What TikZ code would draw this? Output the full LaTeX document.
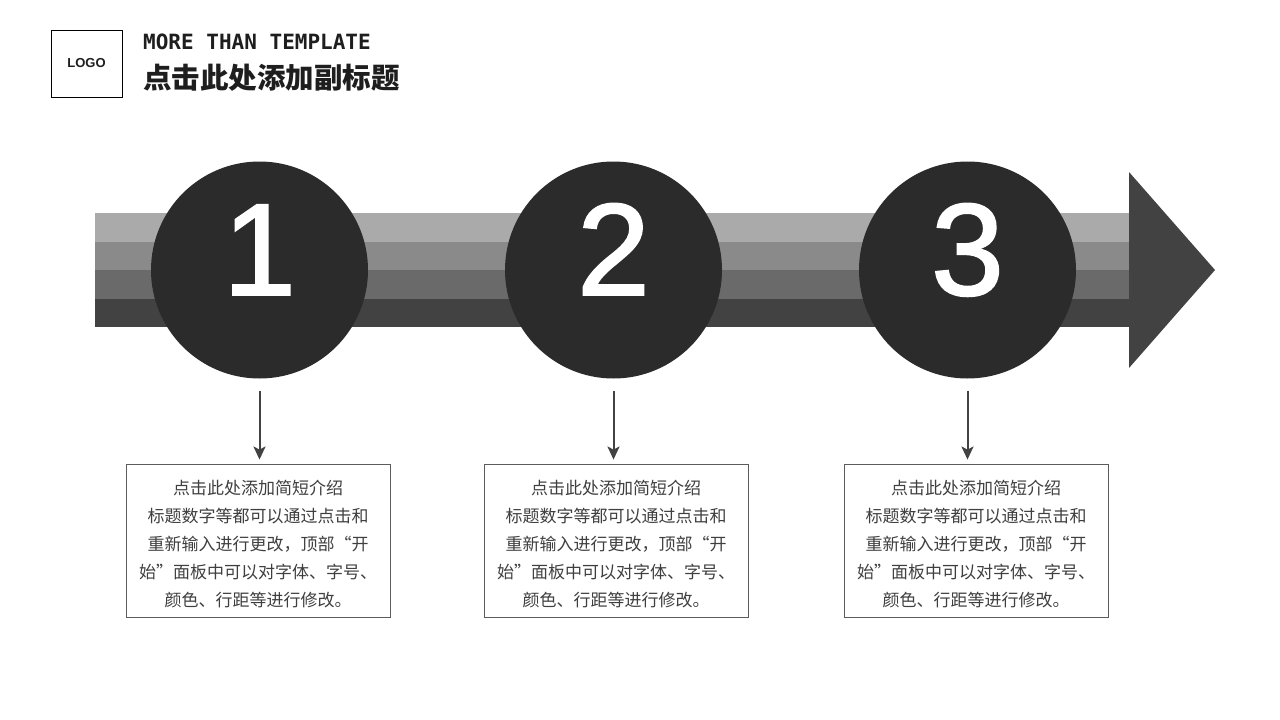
\documentclass[tikz,border=0pt]{standalone}
\usepackage{fontspec}
\setmainfont{Liberation Sans}
\newfontfamily\cjk{Noto Sans CJK SC}
\newfontfamily\monob{DejaVu Sans Mono}
\newfontfamily\numfont[FakeBold=1.5]{Liberation Sans}
\usetikzlibrary{arrows.meta}
\definecolor{sA}{HTML}{AAAAAA}
\definecolor{sB}{HTML}{8A8A8A}
\definecolor{sC}{HTML}{6A6A6A}
\definecolor{sD}{HTML}{424242}
\definecolor{circ}{HTML}{2B2B2B}
\definecolor{txt}{HTML}{3F3F3F}
\definecolor{ttl}{HTML}{1E1E1E}
\newcommand{\desctext}{\rule{0pt}{21pt}点击此处添加简短介绍\\标题数字等都可以通过点击和\\重新输入进行更改，顶部“开\\始”面板中可以对字体、字号、\\颜色、行距等进行修改。}
\tikzset{
  numcircle/.style={circle,fill=circ,minimum size=217pt,inner sep=0pt},
  numtext/.style={anchor=base,text=white,font=\numfont\fontsize{131}{131}\selectfont},
  descbox/.style={draw=txt!85,line width=0.9pt,minimum width=264pt,minimum height=153pt,
    align=center,text=txt,font=\cjk\fontsize{17}{28}\selectfont,inner sep=0pt},
  downarrow/.style={draw=sD,line width=2pt,-{Stealth[length=13pt,width=12pt,inset=3pt]}}
}
\begin{document}
\begin{tikzpicture}[x=1pt,y=-1pt]
\useasboundingbox (0,0) rectangle (1280,720);
\fill[white] (0,0) rectangle (1280,720);
% header
\node[draw=black,line width=0.9pt,minimum width=71pt,minimum height=67pt,inner sep=0pt,
  font=\bfseries\fontsize{13}{13}\selectfont,text=ttl] (logo) at (86.5,63.5) {LOGO};
\node[anchor=west,inner sep=0pt,text=ttl,font=\monob\bfseries\fontsize{21}{21}\selectfont] (title) at (143,42) {MORE THAN TEMPLATE};
\node[anchor=west,inner sep=0pt,text=ttl,font=\cjk\bfseries\fontsize{28.5}{28.5}\selectfont] (subtitle) at (143,77.5) {点击此处添加副标题};
% stripes
\fill[sA] (95,213) rectangle (1130,241.5);
\fill[sB] (95,241.5) rectangle (1130,270);
\fill[sC] (95,270) rectangle (1130,298.5);
\fill[sD] (95,298.5) rectangle (1130,327);
\fill[sD] (1129,172) -- (1215,270) -- (1129,368) -- cycle;
% circles
\node[numcircle] (c1) at (259.5,270) {};
\node[numcircle] (c2) at (613.5,270) {};
\node[numcircle] (c3) at (967.5,270) {};
\node[numtext] (n1) at (259.5,295) {1};
\node[numtext] (n2) at (613.5,295) {2};
\node[numtext] (n3) at (967.5,295) {3};
% boxes
\node[descbox] (b1) at (258,540.5) {\desctext};
\node[descbox] (b2) at (616,540.5) {\desctext};
\node[descbox] (b3) at (976,540.5) {\desctext};
% arrows
\draw[downarrow] ([yshift=-12pt]c1.south) -- ([yshift=4pt]c1.south |- b1.north);
\draw[downarrow] ([yshift=-12pt]c2.south) -- ([yshift=4pt]c2.south |- b2.north);
\draw[downarrow] ([yshift=-12pt]c3.south) -- ([yshift=4pt]c3.south |- b3.north);
\end{tikzpicture}
\end{document}
